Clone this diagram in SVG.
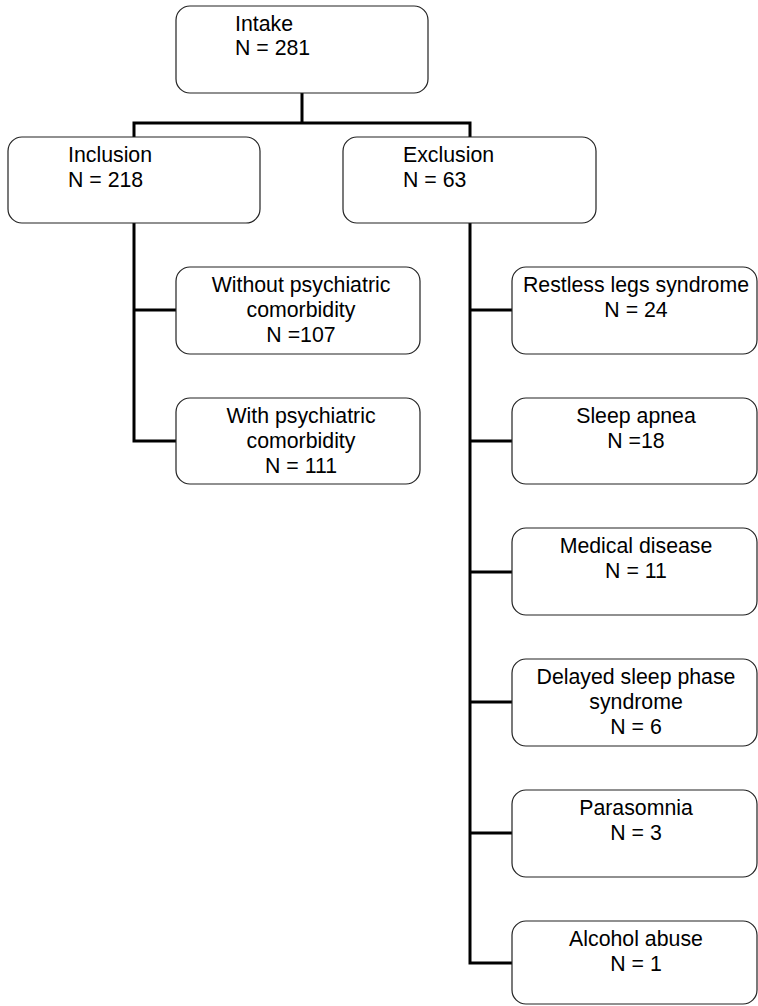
<svg xmlns="http://www.w3.org/2000/svg" width="758" height="1006" viewBox="0 0 758 1006">
<style>
.box{fill:#fff;stroke:#222;stroke-width:1.2}
.t{font-family:"Liberation Sans",Arial,sans-serif;font-size:21.3px;fill:#000}
.c{text-anchor:middle}
.con{stroke:#000;stroke-width:3;fill:none;stroke-linecap:square}
</style>
<rect width="758" height="1006" fill="#fff"/>
<g id="connectors">
<path class="con" d="M302 93V123M134 123H470M134 123V137M470 123V137"/>
<path class="con" d="M134 223V441M134 310H176M134 441H176"/>
<path class="con" d="M470 223V963M470 310H512M470 441H512M470 572H512M470 702H512M470 833H512M470 963H512"/>
</g>
<g id="intake"><rect class="box" x="176" y="6" width="252" height="87" rx="14"/>
<text class="t" x="235" y="31">Intake</text><text class="t" x="235" y="55">N = 281</text></g>
<g id="inclusion"><rect class="box" x="8" y="137" width="252" height="86" rx="14"/>
<text class="t" x="68" y="162">Inclusion</text><text class="t" x="68" y="187">N = 218</text></g>
<g id="exclusion"><rect class="box" x="343" y="137" width="253" height="86" rx="14"/>
<text class="t" x="403" y="162">Exclusion</text><text class="t" x="403" y="187">N = 63</text></g>
<g id="without"><rect class="box" x="176" y="267" width="244" height="87" rx="14"/>
<text class="t c" x="301" y="292">Without psychiatric</text><text class="t c" x="301" y="317">comorbidity</text><text class="t c" x="301" y="342">N =107</text></g>
<g id="with"><rect class="box" x="176" y="398" width="244" height="86" rx="14"/>
<text class="t c" x="301" y="423">With psychiatric</text><text class="t c" x="301" y="448">comorbidity</text><text class="t c" x="301" y="473">N = 111</text></g>
<g id="rls"><rect class="box" x="512" y="267" width="245" height="87" rx="14"/>
<text class="t c" x="636" y="292">Restless legs syndrome</text><text class="t c" x="636" y="317">N = 24</text></g>
<g id="apnea"><rect class="box" x="512" y="398" width="245" height="86" rx="14"/>
<text class="t c" x="636" y="423">Sleep apnea</text><text class="t c" x="636" y="448">N =18</text></g>
<g id="medical"><rect class="box" x="512" y="528" width="245" height="87" rx="14"/>
<text class="t c" x="636" y="553">Medical disease</text><text class="t c" x="636" y="578">N = 11</text></g>
<g id="dsps"><rect class="box" x="512" y="659" width="245" height="87" rx="14"/>
<text class="t c" x="636" y="684">Delayed sleep phase</text><text class="t c" x="636" y="709">syndrome</text><text class="t c" x="636" y="734">N = 6</text></g>
<g id="parasomnia"><rect class="box" x="512" y="790" width="245" height="87" rx="14"/>
<text class="t c" x="636" y="815">Parasomnia</text><text class="t c" x="636" y="840">N = 3</text></g>
<g id="alcohol"><rect class="box" x="512" y="921" width="245" height="83" rx="14"/>
<text class="t c" x="636" y="946">Alcohol abuse</text><text class="t c" x="636" y="971">N = 1</text></g>
</svg>
